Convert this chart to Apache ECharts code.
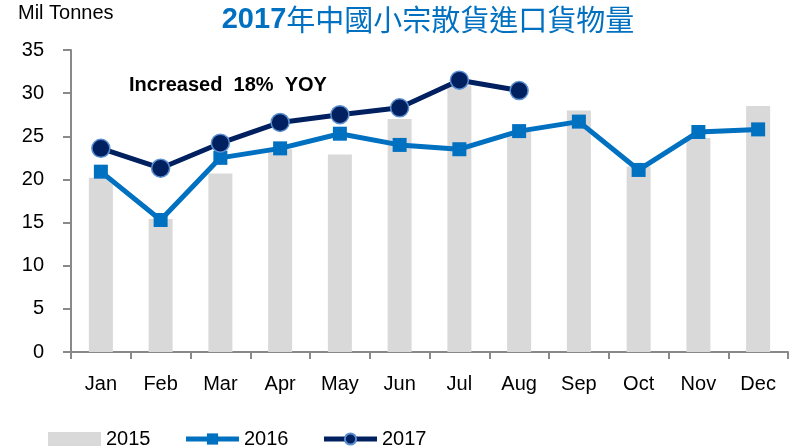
<!DOCTYPE html>
<html>
<head>
<meta charset="utf-8">
<script src="https://cdn.jsdelivr.net/npm/echarts@6/dist/echarts.min.js"></script>
<style>
  html, body { margin: 0; padding: 0; background: #fff; }
  #chart { width: 794px; height: 448px; }
</style>
</head>
<body>
<div id="chart"></div>
<script>
// Monthly minor-bulk import volumes, million tonnes
var months = ['Jan', 'Feb', 'Mar', 'Apr', 'May', 'Jun', 'Jul', 'Aug', 'Sep', 'Oct', 'Nov', 'Dec'];
var vol2015 = [20.2, 15.4, 20.7, 23.5, 22.9, 27.0, 30.9, 25.5, 28.0, 21.5, 24.8, 28.5];
var vol2016 = [20.9, 15.3, 22.5, 23.6, 25.3, 24.0, 23.5, 25.6, 26.7, 21.1, 25.5, 25.8];
var vol2017 = [23.6, 21.3, 24.2, 26.6, 27.5, 28.3, 31.5, 30.3];
var yTicks = { min: 0, max: 35, step: 5 };

var FONT = '"Liberation Sans", Arial, sans-serif';
var chart = echarts.init(document.getElementById('chart'), null, { renderer: 'canvas' });

chart.setOption({
  animation: false,
  backgroundColor: '#ffffff',
  title: {
    text: '{a|2017}{b|年中國小宗散貨進口貨物量}',
    left: 423,
    textAlign: 'center',
    top: 0,
    textStyle: {
      rich: {
        a: { fontFamily: FONT, fontWeight: 'bold', fontSize: 29, color: '#0070c0' },
        b: { fontFamily: '"Noto Sans CJK TC", sans-serif', fontWeight: 'normal', fontSize: 29, color: '#0070c0' }
      }
    }
  },
  grid: { left: 71, right: 6, top: 50, bottom: 96, containLabel: false },
  legend: {
    left: 43,
    top: 424,
    itemWidth: 53,
    itemHeight: 14,
    itemGap: 33,
    textStyle: { fontFamily: FONT, fontSize: 20, color: '#000' },
    data: [
      { name: '2015', icon: 'rect' },
      { name: '2016', lineStyle: { width: 5 } },
      { name: '2017', lineStyle: { width: 5 } }
    ]
  },
  xAxis: {
    type: 'category',
    data: months,
    axisLine: { lineStyle: { color: '#898989', width: 2 } },
    axisTick: { show: true, length: 7, lineStyle: { color: '#898989', width: 2 } },
    axisLabel: { fontFamily: FONT, fontSize: 20, color: '#000', margin: 22 }
  },
  yAxis: {
    type: 'value',
    min: yTicks.min,
    max: yTicks.max,
    interval: yTicks.step,
    splitLine: { show: false },
    axisLine: { show: true, lineStyle: { color: '#898989', width: 2 } },
    axisTick: { show: true, length: 8, lineStyle: { color: '#898989', width: 2 } },
    axisLabel: { fontFamily: FONT, fontSize: 20, color: '#000', margin: 27 }
  },
  graphic: [
    {
      type: 'text', left: 18, top: 3,
      style: { text: 'Mil Tonnes', fontFamily: FONT, fontSize: 20, fill: '#000' }
    },
    {
      type: 'text', left: 129, top: 75,
      style: { text: 'Increased  18%  YOY', fontFamily: FONT, fontSize: 20, fontWeight: 'bold', fill: '#000' }
    }
  ],
  series: [
    {
      name: '2015',
      type: 'bar',
      data: vol2015,
      barWidth: 24,
      itemStyle: { color: '#d9d9d9' }
    },
    {
      name: '2016',
      type: 'line',
      data: vol2016,
      symbol: 'rect',
      symbolSize: 14,
      lineStyle: { color: '#0070c0', width: 5 },
      itemStyle: { color: '#0070c0', borderWidth: 0 }
    },
    {
      name: '2017',
      type: 'line',
      data: vol2017,
      symbol: 'circle',
      symbolSize: 18,
      lineStyle: { color: '#002060', width: 5 },
      itemStyle: { color: '#002060', borderColor: '#5b8fd0', borderWidth: 1.5 }
    }
  ]
});
</script>
</body>
</html>
